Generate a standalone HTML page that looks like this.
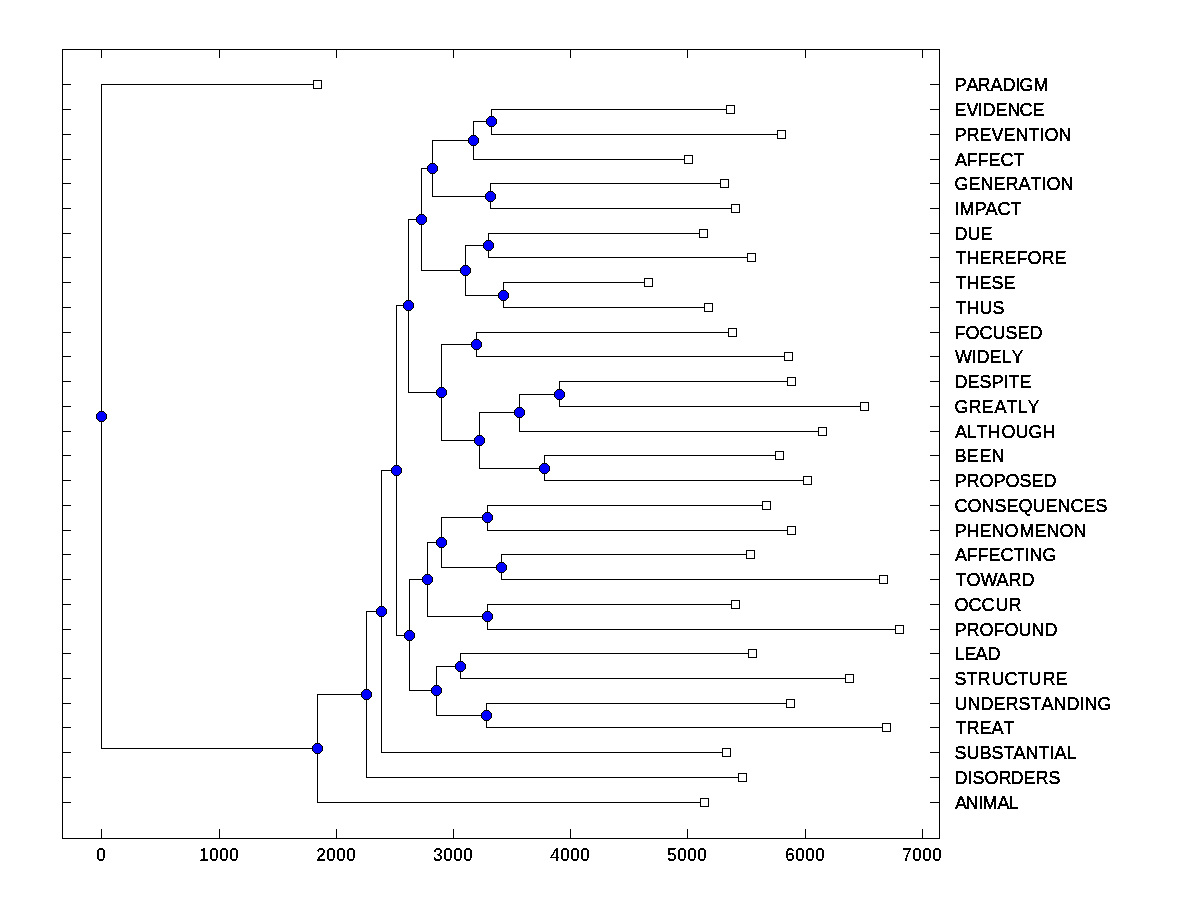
<!DOCTYPE html>
<html lang="en">
<head>
<meta charset="utf-8">
<title>Dendrogram</title>
<style>
html,body{margin:0;padding:0;background:#fff;}
body{width:1200px;height:900px;overflow:hidden;}
svg{display:block;}
text{font-family:"Liberation Sans",Arial,Helvetica,sans-serif;font-size:18px;fill:#000;font-kerning:none;}
</style>
</head>
<body>
<svg width="1200" height="900" viewBox="0 0 1200 900">
<rect x="0" y="0" width="1200" height="900" fill="#ffffff"/>
<defs><filter id="bi" x="0" y="0" width="100%" height="100%" filterUnits="objectBoundingBox" color-interpolation-filters="sRGB"><feComponentTransfer><feFuncA type="discrete" tableValues="0 1 1"/></feComponentTransfer></filter><filter id="bl" x="0" y="0" width="100%" height="100%" filterUnits="objectBoundingBox" color-interpolation-filters="sRGB"><feComponentTransfer><feFuncA type="discrete" tableValues="0 1 1 1"/></feComponentTransfer></filter></defs>
<g fill="#000" shape-rendering="crispEdges">
<rect x="62" y="49" width="878" height="1"/>
<rect x="62" y="838" width="878" height="1"/>
<rect x="62" y="49" width="1" height="790"/>
<rect x="939" y="49" width="1" height="790"/>
<rect x="101" y="49" width="1" height="9"/>
<rect x="101" y="829" width="1" height="10"/>
<rect x="219" y="49" width="1" height="9"/>
<rect x="219" y="829" width="1" height="10"/>
<rect x="336" y="49" width="1" height="9"/>
<rect x="336" y="829" width="1" height="10"/>
<rect x="453" y="49" width="1" height="9"/>
<rect x="453" y="829" width="1" height="10"/>
<rect x="570" y="49" width="1" height="9"/>
<rect x="570" y="829" width="1" height="10"/>
<rect x="687" y="49" width="1" height="9"/>
<rect x="687" y="829" width="1" height="10"/>
<rect x="805" y="49" width="1" height="9"/>
<rect x="805" y="829" width="1" height="10"/>
<rect x="922" y="49" width="1" height="9"/>
<rect x="922" y="829" width="1" height="10"/>
<rect x="62" y="84" width="9" height="1"/>
<rect x="930" y="84" width="10" height="1"/>
<rect x="62" y="109" width="9" height="1"/>
<rect x="930" y="109" width="10" height="1"/>
<rect x="62" y="134" width="9" height="1"/>
<rect x="930" y="134" width="10" height="1"/>
<rect x="62" y="159" width="9" height="1"/>
<rect x="930" y="159" width="10" height="1"/>
<rect x="62" y="183" width="9" height="1"/>
<rect x="930" y="183" width="10" height="1"/>
<rect x="62" y="208" width="9" height="1"/>
<rect x="930" y="208" width="10" height="1"/>
<rect x="62" y="233" width="9" height="1"/>
<rect x="930" y="233" width="10" height="1"/>
<rect x="62" y="257" width="9" height="1"/>
<rect x="930" y="257" width="10" height="1"/>
<rect x="62" y="282" width="9" height="1"/>
<rect x="930" y="282" width="10" height="1"/>
<rect x="62" y="307" width="9" height="1"/>
<rect x="930" y="307" width="10" height="1"/>
<rect x="62" y="332" width="9" height="1"/>
<rect x="930" y="332" width="10" height="1"/>
<rect x="62" y="356" width="9" height="1"/>
<rect x="930" y="356" width="10" height="1"/>
<rect x="62" y="381" width="9" height="1"/>
<rect x="930" y="381" width="10" height="1"/>
<rect x="62" y="406" width="9" height="1"/>
<rect x="930" y="406" width="10" height="1"/>
<rect x="62" y="431" width="9" height="1"/>
<rect x="930" y="431" width="10" height="1"/>
<rect x="62" y="455" width="9" height="1"/>
<rect x="930" y="455" width="10" height="1"/>
<rect x="62" y="480" width="9" height="1"/>
<rect x="930" y="480" width="10" height="1"/>
<rect x="62" y="505" width="9" height="1"/>
<rect x="930" y="505" width="10" height="1"/>
<rect x="62" y="530" width="9" height="1"/>
<rect x="930" y="530" width="10" height="1"/>
<rect x="62" y="554" width="9" height="1"/>
<rect x="930" y="554" width="10" height="1"/>
<rect x="62" y="579" width="9" height="1"/>
<rect x="930" y="579" width="10" height="1"/>
<rect x="62" y="604" width="9" height="1"/>
<rect x="930" y="604" width="10" height="1"/>
<rect x="62" y="629" width="9" height="1"/>
<rect x="930" y="629" width="10" height="1"/>
<rect x="62" y="653" width="9" height="1"/>
<rect x="930" y="653" width="10" height="1"/>
<rect x="62" y="678" width="9" height="1"/>
<rect x="930" y="678" width="10" height="1"/>
<rect x="62" y="703" width="9" height="1"/>
<rect x="930" y="703" width="10" height="1"/>
<rect x="62" y="727" width="9" height="1"/>
<rect x="930" y="727" width="10" height="1"/>
<rect x="62" y="752" width="9" height="1"/>
<rect x="930" y="752" width="10" height="1"/>
<rect x="62" y="777" width="9" height="1"/>
<rect x="930" y="777" width="10" height="1"/>
<rect x="62" y="802" width="9" height="1"/>
<rect x="930" y="802" width="10" height="1"/>
<rect x="101" y="84" width="217" height="1"/>
<rect x="101" y="748" width="217" height="1"/>
<rect x="101" y="84" width="1" height="665"/>
<rect x="317" y="694" width="50" height="1"/>
<rect x="317" y="802" width="388" height="1"/>
<rect x="317" y="694" width="1" height="109"/>
<rect x="366" y="611" width="16" height="1"/>
<rect x="366" y="777" width="377" height="1"/>
<rect x="366" y="611" width="1" height="167"/>
<rect x="381" y="470" width="16" height="1"/>
<rect x="381" y="752" width="346" height="1"/>
<rect x="381" y="470" width="1" height="283"/>
<rect x="396" y="305" width="13" height="1"/>
<rect x="396" y="635" width="14" height="1"/>
<rect x="396" y="305" width="1" height="331"/>
<rect x="408" y="219" width="14" height="1"/>
<rect x="408" y="392" width="34" height="1"/>
<rect x="408" y="219" width="1" height="174"/>
<rect x="421" y="168" width="12" height="1"/>
<rect x="421" y="270" width="45" height="1"/>
<rect x="421" y="168" width="1" height="103"/>
<rect x="432" y="140" width="42" height="1"/>
<rect x="432" y="196" width="59" height="1"/>
<rect x="432" y="140" width="1" height="57"/>
<rect x="473" y="121" width="19" height="1"/>
<rect x="473" y="159" width="216" height="1"/>
<rect x="473" y="121" width="1" height="39"/>
<rect x="491" y="109" width="240" height="1"/>
<rect x="491" y="134" width="291" height="1"/>
<rect x="491" y="109" width="1" height="26"/>
<rect x="490" y="183" width="235" height="1"/>
<rect x="490" y="208" width="246" height="1"/>
<rect x="490" y="183" width="1" height="26"/>
<rect x="465" y="245" width="24" height="1"/>
<rect x="465" y="295" width="39" height="1"/>
<rect x="465" y="245" width="1" height="51"/>
<rect x="488" y="233" width="216" height="1"/>
<rect x="488" y="257" width="264" height="1"/>
<rect x="488" y="233" width="1" height="25"/>
<rect x="503" y="282" width="146" height="1"/>
<rect x="503" y="307" width="206" height="1"/>
<rect x="503" y="282" width="1" height="26"/>
<rect x="441" y="344" width="36" height="1"/>
<rect x="441" y="440" width="39" height="1"/>
<rect x="441" y="344" width="1" height="97"/>
<rect x="476" y="332" width="257" height="1"/>
<rect x="476" y="356" width="313" height="1"/>
<rect x="476" y="332" width="1" height="25"/>
<rect x="479" y="412" width="41" height="1"/>
<rect x="479" y="468" width="66" height="1"/>
<rect x="479" y="412" width="1" height="57"/>
<rect x="519" y="394" width="41" height="1"/>
<rect x="519" y="431" width="304" height="1"/>
<rect x="519" y="394" width="1" height="38"/>
<rect x="559" y="381" width="233" height="1"/>
<rect x="559" y="406" width="306" height="1"/>
<rect x="559" y="381" width="1" height="26"/>
<rect x="544" y="455" width="236" height="1"/>
<rect x="544" y="480" width="264" height="1"/>
<rect x="544" y="455" width="1" height="26"/>
<rect x="409" y="579" width="19" height="1"/>
<rect x="409" y="690" width="28" height="1"/>
<rect x="409" y="579" width="1" height="112"/>
<rect x="427" y="542" width="15" height="1"/>
<rect x="427" y="616" width="61" height="1"/>
<rect x="427" y="542" width="1" height="75"/>
<rect x="441" y="517" width="47" height="1"/>
<rect x="441" y="567" width="61" height="1"/>
<rect x="441" y="517" width="1" height="51"/>
<rect x="487" y="505" width="280" height="1"/>
<rect x="487" y="530" width="305" height="1"/>
<rect x="487" y="505" width="1" height="26"/>
<rect x="501" y="554" width="250" height="1"/>
<rect x="501" y="579" width="383" height="1"/>
<rect x="501" y="554" width="1" height="26"/>
<rect x="487" y="604" width="249" height="1"/>
<rect x="487" y="629" width="413" height="1"/>
<rect x="487" y="604" width="1" height="26"/>
<rect x="436" y="666" width="25" height="1"/>
<rect x="436" y="715" width="51" height="1"/>
<rect x="436" y="666" width="1" height="50"/>
<rect x="460" y="653" width="293" height="1"/>
<rect x="460" y="678" width="390" height="1"/>
<rect x="460" y="653" width="1" height="26"/>
<rect x="486" y="703" width="305" height="1"/>
<rect x="486" y="727" width="401" height="1"/>
<rect x="486" y="703" width="1" height="25"/>
</g>
<g fill="#fff" stroke="#000" stroke-width="1" shape-rendering="crispEdges">
<rect x="313.5" y="80.5" width="8" height="8"/>
<rect x="726.5" y="105.5" width="8" height="8"/>
<rect x="777.5" y="130.5" width="8" height="8"/>
<rect x="684.5" y="155.5" width="8" height="8"/>
<rect x="720.5" y="179.5" width="8" height="8"/>
<rect x="731.5" y="204.5" width="8" height="8"/>
<rect x="699.5" y="229.5" width="8" height="8"/>
<rect x="747.5" y="253.5" width="8" height="8"/>
<rect x="644.5" y="278.5" width="8" height="8"/>
<rect x="704.5" y="303.5" width="8" height="8"/>
<rect x="728.5" y="328.5" width="8" height="8"/>
<rect x="784.5" y="352.5" width="8" height="8"/>
<rect x="787.5" y="377.5" width="8" height="8"/>
<rect x="860.5" y="402.5" width="8" height="8"/>
<rect x="818.5" y="427.5" width="8" height="8"/>
<rect x="775.5" y="451.5" width="8" height="8"/>
<rect x="803.5" y="476.5" width="8" height="8"/>
<rect x="762.5" y="501.5" width="8" height="8"/>
<rect x="787.5" y="526.5" width="8" height="8"/>
<rect x="746.5" y="550.5" width="8" height="8"/>
<rect x="879.5" y="575.5" width="8" height="8"/>
<rect x="731.5" y="600.5" width="8" height="8"/>
<rect x="895.5" y="625.5" width="8" height="8"/>
<rect x="748.5" y="649.5" width="8" height="8"/>
<rect x="845.5" y="674.5" width="8" height="8"/>
<rect x="786.5" y="699.5" width="8" height="8"/>
<rect x="882.5" y="723.5" width="8" height="8"/>
<rect x="722.5" y="748.5" width="8" height="8"/>
<rect x="738.5" y="773.5" width="8" height="8"/>
<rect x="700.5" y="798.5" width="8" height="8"/>
</g>
<g shape-rendering="crispEdges">
<path fill="#000" d="M99,411h5v1h1v1h1v1h1v5h-1v1h-1v1h-1v1h-5v-1h-1v-1h-1v-1h-1v-5h1v-1h1v-1h1z"/><path fill="#0000ff" d="M99,412h5v1h1v1h1v5h-1v1h-1v1h-5v-1h-1v-1h-1v-5h1v-1h1z"/>
<path fill="#000" d="M315,743h5v1h1v1h1v1h1v5h-1v1h-1v1h-1v1h-5v-1h-1v-1h-1v-1h-1v-5h1v-1h1v-1h1z"/><path fill="#0000ff" d="M315,744h5v1h1v1h1v5h-1v1h-1v1h-5v-1h-1v-1h-1v-5h1v-1h1z"/>
<path fill="#000" d="M364,689h5v1h1v1h1v1h1v5h-1v1h-1v1h-1v1h-5v-1h-1v-1h-1v-1h-1v-5h1v-1h1v-1h1z"/><path fill="#0000ff" d="M364,690h5v1h1v1h1v5h-1v1h-1v1h-5v-1h-1v-1h-1v-5h1v-1h1z"/>
<path fill="#000" d="M379,606h5v1h1v1h1v1h1v5h-1v1h-1v1h-1v1h-5v-1h-1v-1h-1v-1h-1v-5h1v-1h1v-1h1z"/><path fill="#0000ff" d="M379,607h5v1h1v1h1v5h-1v1h-1v1h-5v-1h-1v-1h-1v-5h1v-1h1z"/>
<path fill="#000" d="M394,465h5v1h1v1h1v1h1v5h-1v1h-1v1h-1v1h-5v-1h-1v-1h-1v-1h-1v-5h1v-1h1v-1h1z"/><path fill="#0000ff" d="M394,466h5v1h1v1h1v5h-1v1h-1v1h-5v-1h-1v-1h-1v-5h1v-1h1z"/>
<path fill="#000" d="M406,300h5v1h1v1h1v1h1v5h-1v1h-1v1h-1v1h-5v-1h-1v-1h-1v-1h-1v-5h1v-1h1v-1h1z"/><path fill="#0000ff" d="M406,301h5v1h1v1h1v5h-1v1h-1v1h-5v-1h-1v-1h-1v-5h1v-1h1z"/>
<path fill="#000" d="M419,214h5v1h1v1h1v1h1v5h-1v1h-1v1h-1v1h-5v-1h-1v-1h-1v-1h-1v-5h1v-1h1v-1h1z"/><path fill="#0000ff" d="M419,215h5v1h1v1h1v5h-1v1h-1v1h-5v-1h-1v-1h-1v-5h1v-1h1z"/>
<path fill="#000" d="M430,163h5v1h1v1h1v1h1v5h-1v1h-1v1h-1v1h-5v-1h-1v-1h-1v-1h-1v-5h1v-1h1v-1h1z"/><path fill="#0000ff" d="M430,164h5v1h1v1h1v5h-1v1h-1v1h-5v-1h-1v-1h-1v-5h1v-1h1z"/>
<path fill="#000" d="M471,135h5v1h1v1h1v1h1v5h-1v1h-1v1h-1v1h-5v-1h-1v-1h-1v-1h-1v-5h1v-1h1v-1h1z"/><path fill="#0000ff" d="M471,136h5v1h1v1h1v5h-1v1h-1v1h-5v-1h-1v-1h-1v-5h1v-1h1z"/>
<path fill="#000" d="M489,116h5v1h1v1h1v1h1v5h-1v1h-1v1h-1v1h-5v-1h-1v-1h-1v-1h-1v-5h1v-1h1v-1h1z"/><path fill="#0000ff" d="M489,117h5v1h1v1h1v5h-1v1h-1v1h-5v-1h-1v-1h-1v-5h1v-1h1z"/>
<path fill="#000" d="M488,191h5v1h1v1h1v1h1v5h-1v1h-1v1h-1v1h-5v-1h-1v-1h-1v-1h-1v-5h1v-1h1v-1h1z"/><path fill="#0000ff" d="M488,192h5v1h1v1h1v5h-1v1h-1v1h-5v-1h-1v-1h-1v-5h1v-1h1z"/>
<path fill="#000" d="M463,265h5v1h1v1h1v1h1v5h-1v1h-1v1h-1v1h-5v-1h-1v-1h-1v-1h-1v-5h1v-1h1v-1h1z"/><path fill="#0000ff" d="M463,266h5v1h1v1h1v5h-1v1h-1v1h-5v-1h-1v-1h-1v-5h1v-1h1z"/>
<path fill="#000" d="M486,240h5v1h1v1h1v1h1v5h-1v1h-1v1h-1v1h-5v-1h-1v-1h-1v-1h-1v-5h1v-1h1v-1h1z"/><path fill="#0000ff" d="M486,241h5v1h1v1h1v5h-1v1h-1v1h-5v-1h-1v-1h-1v-5h1v-1h1z"/>
<path fill="#000" d="M501,290h5v1h1v1h1v1h1v5h-1v1h-1v1h-1v1h-5v-1h-1v-1h-1v-1h-1v-5h1v-1h1v-1h1z"/><path fill="#0000ff" d="M501,291h5v1h1v1h1v5h-1v1h-1v1h-5v-1h-1v-1h-1v-5h1v-1h1z"/>
<path fill="#000" d="M439,387h5v1h1v1h1v1h1v5h-1v1h-1v1h-1v1h-5v-1h-1v-1h-1v-1h-1v-5h1v-1h1v-1h1z"/><path fill="#0000ff" d="M439,388h5v1h1v1h1v5h-1v1h-1v1h-5v-1h-1v-1h-1v-5h1v-1h1z"/>
<path fill="#000" d="M474,339h5v1h1v1h1v1h1v5h-1v1h-1v1h-1v1h-5v-1h-1v-1h-1v-1h-1v-5h1v-1h1v-1h1z"/><path fill="#0000ff" d="M474,340h5v1h1v1h1v5h-1v1h-1v1h-5v-1h-1v-1h-1v-5h1v-1h1z"/>
<path fill="#000" d="M477,435h5v1h1v1h1v1h1v5h-1v1h-1v1h-1v1h-5v-1h-1v-1h-1v-1h-1v-5h1v-1h1v-1h1z"/><path fill="#0000ff" d="M477,436h5v1h1v1h1v5h-1v1h-1v1h-5v-1h-1v-1h-1v-5h1v-1h1z"/>
<path fill="#000" d="M517,407h5v1h1v1h1v1h1v5h-1v1h-1v1h-1v1h-5v-1h-1v-1h-1v-1h-1v-5h1v-1h1v-1h1z"/><path fill="#0000ff" d="M517,408h5v1h1v1h1v5h-1v1h-1v1h-5v-1h-1v-1h-1v-5h1v-1h1z"/>
<path fill="#000" d="M557,389h5v1h1v1h1v1h1v5h-1v1h-1v1h-1v1h-5v-1h-1v-1h-1v-1h-1v-5h1v-1h1v-1h1z"/><path fill="#0000ff" d="M557,390h5v1h1v1h1v5h-1v1h-1v1h-5v-1h-1v-1h-1v-5h1v-1h1z"/>
<path fill="#000" d="M542,463h5v1h1v1h1v1h1v5h-1v1h-1v1h-1v1h-5v-1h-1v-1h-1v-1h-1v-5h1v-1h1v-1h1z"/><path fill="#0000ff" d="M542,464h5v1h1v1h1v5h-1v1h-1v1h-5v-1h-1v-1h-1v-5h1v-1h1z"/>
<path fill="#000" d="M407,630h5v1h1v1h1v1h1v5h-1v1h-1v1h-1v1h-5v-1h-1v-1h-1v-1h-1v-5h1v-1h1v-1h1z"/><path fill="#0000ff" d="M407,631h5v1h1v1h1v5h-1v1h-1v1h-5v-1h-1v-1h-1v-5h1v-1h1z"/>
<path fill="#000" d="M425,574h5v1h1v1h1v1h1v5h-1v1h-1v1h-1v1h-5v-1h-1v-1h-1v-1h-1v-5h1v-1h1v-1h1z"/><path fill="#0000ff" d="M425,575h5v1h1v1h1v5h-1v1h-1v1h-5v-1h-1v-1h-1v-5h1v-1h1z"/>
<path fill="#000" d="M439,537h5v1h1v1h1v1h1v5h-1v1h-1v1h-1v1h-5v-1h-1v-1h-1v-1h-1v-5h1v-1h1v-1h1z"/><path fill="#0000ff" d="M439,538h5v1h1v1h1v5h-1v1h-1v1h-5v-1h-1v-1h-1v-5h1v-1h1z"/>
<path fill="#000" d="M485,512h5v1h1v1h1v1h1v5h-1v1h-1v1h-1v1h-5v-1h-1v-1h-1v-1h-1v-5h1v-1h1v-1h1z"/><path fill="#0000ff" d="M485,513h5v1h1v1h1v5h-1v1h-1v1h-5v-1h-1v-1h-1v-5h1v-1h1z"/>
<path fill="#000" d="M499,562h5v1h1v1h1v1h1v5h-1v1h-1v1h-1v1h-5v-1h-1v-1h-1v-1h-1v-5h1v-1h1v-1h1z"/><path fill="#0000ff" d="M499,563h5v1h1v1h1v5h-1v1h-1v1h-5v-1h-1v-1h-1v-5h1v-1h1z"/>
<path fill="#000" d="M485,611h5v1h1v1h1v1h1v5h-1v1h-1v1h-1v1h-5v-1h-1v-1h-1v-1h-1v-5h1v-1h1v-1h1z"/><path fill="#0000ff" d="M485,612h5v1h1v1h1v5h-1v1h-1v1h-5v-1h-1v-1h-1v-5h1v-1h1z"/>
<path fill="#000" d="M434,685h5v1h1v1h1v1h1v5h-1v1h-1v1h-1v1h-5v-1h-1v-1h-1v-1h-1v-5h1v-1h1v-1h1z"/><path fill="#0000ff" d="M434,686h5v1h1v1h1v5h-1v1h-1v1h-5v-1h-1v-1h-1v-5h1v-1h1z"/>
<path fill="#000" d="M458,661h5v1h1v1h1v1h1v5h-1v1h-1v1h-1v1h-5v-1h-1v-1h-1v-1h-1v-5h1v-1h1v-1h1z"/><path fill="#0000ff" d="M458,662h5v1h1v1h1v5h-1v1h-1v1h-5v-1h-1v-1h-1v-5h1v-1h1z"/>
<path fill="#000" d="M484,710h5v1h1v1h1v1h1v5h-1v1h-1v1h-1v1h-5v-1h-1v-1h-1v-1h-1v-5h1v-1h1v-1h1z"/><path fill="#0000ff" d="M484,711h5v1h1v1h1v5h-1v1h-1v1h-5v-1h-1v-1h-1v-5h1v-1h1z"/>
</g>
<g filter="url(#bl)">
<text x="954.5 966.5 977.5 990.5 1002.5 1015.5 1019.5 1033.5" y="91">PARADIGM</text>
<text x="954.5 966.5 977.5 982.5 995.5 1007.5 1019.5 1032.5" y="116">EVIDENCE</text>
<text x="954.5 966.5 979.5 991.5 1003.5 1015.5 1028.5 1039.5 1044.5 1058.5" y="141">PREVENTION</text>
<text x="955 966.5 977.5 988.5 1000.5 1013.5" y="166">AFFECT</text>
<text x="954.5 968.5 980.5 993.5 1005.5 1018.5 1030.5 1041.5 1046.5 1060.5" y="190">GENERATION</text>
<text x="954.5 959.5 974.5 985.5 997.5 1010.5" y="215">IMPACT</text>
<text x="954.5 967.5 980.5" y="240">DUE</text>
<text x="955.5 966.5 979.5 991.5 1004.5 1016.5 1027.5 1041.5 1054.5" y="264">THEREFORE</text>
<text x="955.5 966.5 979.5 991.5 1003.5" y="289">THESE</text>
<text x="955.5 966.5 979.5 992.5" y="314">THUS</text>
<text x="954.5 965.5 979.5 992.5 1005.5 1017.5 1029.5" y="339">FOCUSED</text>
<text x="955 971.5 976.5 989.5 1001.5 1011.5" y="363">WIDELY</text>
<text x="954.5 967.5 979.5 991.5 1003.5 1008.5 1019.5" y="388">DESPITE</text>
<text x="954.5 968.5 981.5 994.5 1006.5 1017.5 1027.5" y="413">GREATLY</text>
<text x="955 966.5 976.5 987.5 1001.5 1015.5 1028.5 1042.5" y="438">ALTHOUGH</text>
<text x="954.5 966.5 979.5 991.5" y="462">BEEN</text>
<text x="954.5 966.5 979.5 993.5 1005.5 1019.5 1031.5 1043.5" y="487">PROPOSED</text>
<text x="954.5 967.5 981.5 994.5 1006.5 1018.5 1032.5 1045.5 1057.5 1070.5 1083.5 1095.5" y="512">CONSEQUENCES</text>
<text x="954.5 966.5 979.5 991.5 1004.5 1019.5 1034.5 1046.5 1059.5 1073.5" y="537">PHENOMENON</text>
<text x="955 966.5 977.5 988.5 1000.5 1013.5 1024.5 1029.5 1042.5" y="561">AFFECTING</text>
<text x="955.5 966.5 980.5 996.5 1008.5 1021.5" y="586">TOWARD</text>
<text x="954.5 968.5 981.5 995.5 1008.5" y="611">OCCUR</text>
<text x="954.5 966.5 979.5 993.5 1004.5 1018.5 1031.5 1044.5" y="636">PROFOUND</text>
<text x="954.5 964.5 975.5 987.5" y="660">LEAD</text>
<text x="954.5 966.5 977.5 991.5 1004.5 1017.5 1028.5 1042.5 1055.5" y="685">STRUCTURE</text>
<text x="954.5 967.5 980.5 993.5 1005.5 1018.5 1030.5 1041.5 1053.5 1066.5 1079.5 1084.5 1097.5" y="710">UNDERSTANDING</text>
<text x="955.5 966.5 979.5 991.5 1003.5" y="734">TREAT</text>
<text x="954.5 966.5 979.5 991.5 1003.5 1013.5 1025.5 1038.5 1049.5 1054.5 1066.5" y="759">SUBSTANTIAL</text>
<text x="954.5 967.5 972.5 984.5 998.5 1010.5 1023.5 1035.5 1048.5" y="784">DISORDERS</text>
<text x="955 965.5 978.5 982.5 997.5 1008.5" y="809">ANIMAL</text>
</g>
<g filter="url(#bi)" letter-spacing="0.5146">
<text transform="translate(96.24 861) scale(0.95 1)">0</text>
<text transform="translate(199.24 861) scale(0.95 1)">1000</text>
<text transform="translate(316.24 861) scale(0.95 1)">2000</text>
<text transform="translate(433.24 861) scale(0.95 1)">3000</text>
<text transform="translate(550.24 861) scale(0.95 1)">4000</text>
<text transform="translate(667.24 861) scale(0.95 1)">5000</text>
<text transform="translate(785.24 861) scale(0.95 1)">6000</text>
<text transform="translate(902.24 861) scale(0.95 1)">7000</text>
</g>
</svg>
</body>
</html>
